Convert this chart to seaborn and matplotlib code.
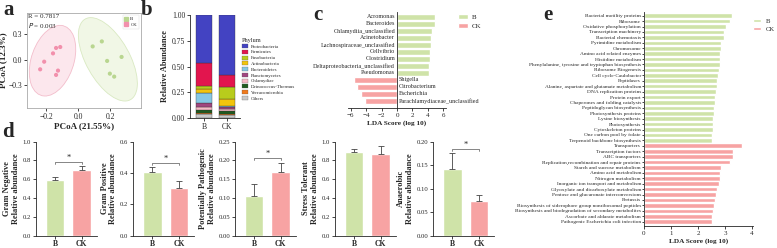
import numpy as np
import pandas as pd
import matplotlib
matplotlib.use("Agg")
import matplotlib.pyplot as plt
import seaborn as sns
from matplotlib.patches import Ellipse, Patch
from matplotlib.lines import Line2D

sns.set_theme(style="ticks")
plt.rcParams['font.family'] = ['Liberation Serif', 'DejaVu Serif']
plt.rcParams['axes.linewidth'] = 0.6
plt.rcParams['xtick.major.width'] = 0.6
plt.rcParams['ytick.major.width'] = 0.6
plt.rcParams['xtick.major.size'] = 2
plt.rcParams['ytick.major.size'] = 2
plt.rcParams['xtick.major.pad'] = 1.5
plt.rcParams['ytick.major.pad'] = 1.5

GREEN = "#CFE3A8"
PINK = "#F7A3A3"

# ---------------- data ----------------
# a: PCoA
pcoa_B_x = [0.146, 0.089, 0.179, 0.269, 0.196, 0.223]
pcoa_B_y = [0.215, 0.156, -0.015, 0.032, -0.165, -0.200]
pcoa_CK_x = [-0.113, -0.139, -0.158, -0.213, -0.238, -0.127, -0.139]
pcoa_CK_y = [0.149, 0.138, 0.074, -0.024, -0.114, -0.129, -0.180]
anosim_R = "R = 0.7817"
anosim_P = "0.003"

# b: phylum composition
phyla = ["Proteobacteria", "Firmicutes", "Fusobacteria", "Actinobacteria",
         "Bacteroidetes", "Planctomycetes", "Chlamydiae", "Deinococcus-Thermus",
         "Verrucomicrobia", "Others"]
phyla_colors = ["#4343C2", "#E2154E", "#B8CC1C", "#F2C40C", "#86C8E4",
                "#A0467F", "#F6BAC6", "#1F5A1F", "#F07A1C", "#C9C9C9"]
abund_B = [0.470, 0.220, 0.030, 0.040, 0.090, 0.045, 0.030, 0.030, 0.005, 0.040]
abund_CK = [0.582, 0.120, 0.113, 0.064, 0.010, 0.025, 0.016, 0.035, 0.010, 0.025]
groups = ["B", "CK"]

# c: LEfSe genus
lda_taxa = ["Acromonas", "Bacteroides", "Chlamydiia_unclassified", "Acinetobacter",
            "Lachnospiraceae_unclassified", "Cellvibrio", "Clostridium",
            "Deltaproteobacteria_unclassified", "Pseudomonas", "Shigella",
            "Citrobacterium", "Escherichia", "Parachlamydiaceae_unclassified"]
lda_scores = [4.9, 4.9, 4.5, 4.45, 4.35, 4.2, 4.2, 4.15, 4.1, -5.5, -5.1, -4.7, -4.1]
lda_group = ["B"] * 9 + ["CK"] * 4

# d: phenotypes
func_titles = ["Gram Negative", "Gram Positive", "Potentially Pathogenic",
               "Stress Tolerant", "Anaerobic"]
func_mean_B = [0.590, 0.405, 0.104, 0.888, 0.141]
func_mean_CK = [0.695, 0.307, 0.168, 0.873, 0.074]
func_sd_B = [0.030, 0.031, 0.033, 0.031, 0.034]
func_sd_CK = [0.043, 0.042, 0.026, 0.081, 0.012]
func_ymax = [1.0, 0.6, 0.25, 1.0, 0.20]
func_ystep = [0.2, 0.2, 0.05, 0.2, 0.05]
func_sig = ["*", "*", "*", "", "*"]

# e: KEGG LEfSe
kegg_terms = ["Bacterial motility proteins", "Ribosome", "Oxidative phosphorylation",
              "Transcription machinery", "Bacterial chemotaxis", "Pyrimidine metabolism",
              "Chromosome", "Amino acid related enzymes", "Histidine metabolism",
              "Phenylalanine, tyrosine and tryptophan biosynthesis", "Ribosome Biogenesis",
              "Cell cycle-Caulobacter", "Peptidases",
              "Alanine, aspartate and glutamate metabolism", "DNA replication proteins",
              "Protein export", "Chaperones and folding catalysts",
              "Peptidoglycan biosynthesis", "Photosynthesis proteins", "Lysine biosynthesis",
              "Photosynthesis", "Cytoskeleton proteins", "One carbon pool by folate",
              "Terpenoid backbone biosynthesis",
              "Transporters", "Transcription factors", "ABC transporters",
              "Replication,recombination and repair proteins", "Starch and sucrose metabolism",
              "Amino acid metabolism", "Nitrogen metabolism",
              "Inorganic ion transport and metabolism",
              "Glyoxylate and dicarboxylate metabolism",
              "Pentose and glucuronate interconversions", "Pertussis",
              "Biosynthesis of siderophore group nonribosomal peptides",
              "Biosynthesis and biodegradation of secondary metabolites",
              "Ascorbate and aldarate metabolism", "Pathogenic Escherichia coli infection"]
kegg_scores = [3.25, 3.19, 3.04, 2.97, 2.96, 2.86, 2.84, 2.81, 2.80, 2.80, 2.78, 2.75,
               2.72, 2.69, 2.67, 2.64, 2.63, 2.60, 2.59, 2.57, 2.57, 2.55, 2.53, 2.52,
               3.63, 3.31, 3.30, 3.19, 2.84, 2.81, 2.80, 2.79, 2.72, 2.67, 2.61, 2.60,
               2.54, 2.52, 2.51]
kegg_group = ["B"] * 24 + ["CK"] * 15

# ---------------- figure ----------------
W, H = 777, 248
fig = plt.figure(figsize=(W / 100, H / 100), dpi=100)


def box(x0, y0, x1, y1):
    return [x0 / W, 1 - y1 / H, (x1 - x0) / W, (y1 - y0) / H]


def letter(x, y, s):
    fig.text(x / W, 1 - y / H, s, fontsize=15, fontweight="bold", va="top", ha="left")


# ---- a ----
axa = fig.add_axes(box(27, 13, 141, 108))
pc = pd.DataFrame({"x": pcoa_B_x + pcoa_CK_x, "y": pcoa_B_y + pcoa_CK_y,
                   "g": ["B"] * len(pcoa_B_x) + ["CK"] * len(pcoa_CK_x)})


def conf_ellipse(ax, x, y, radius, face, edge):
    x = np.asarray(x); y = np.asarray(y)
    cov = np.cov(x, y)
    vals, vecs = np.linalg.eigh(cov)
    order = vals.argsort()[::-1]
    vals, vecs = vals[order], vecs[:, order]
    ang = np.degrees(np.arctan2(vecs[1, 0], vecs[0, 0]))
    w, h = 2 * radius * np.sqrt(vals)
    ax.add_patch(Ellipse((x.mean(), y.mean()), w, h, angle=ang, facecolor=face,
                         edgecolor=edge, lw=0.6, zorder=1))


conf_ellipse(axa, pcoa_B_x, pcoa_B_y, 2.95, "#F1F7E6", "#D9E9C2")
conf_ellipse(axa, pcoa_CK_x, pcoa_CK_y, 3.1, "#FCE7ED", "#F3BDCB")
sns.scatterplot(data=pc, x="x", y="y", hue="g", palette={"B": "#B9D690", "CK": "#F290AC"},
                s=9, linewidth=0, ax=axa, zorder=3, legend=False)
axa.set_xlim(-0.32, 0.39)
axa.set_ylim(-0.57, 0.55)
axa.set_xticks([-0.2, 0.0, 0.2])
axa.set_yticks([-0.3, 0.0, 0.3])
axa.tick_params(labelsize=5.5)
for sp in axa.spines.values():
    sp.set_color("#AAAAAA")
axa.set_xlabel("PCoA (21.55%)", fontsize=6.5, fontweight="bold", labelpad=1)
axa.set_ylabel("PCoA (12.3%)", fontsize=6.5, fontweight="bold", labelpad=1)
axa.text(0.01, 0.99, anosim_R, transform=axa.transAxes, fontsize=5, va="top")
axa.text(0.01, 0.92, r"$\it{P}$ = " + anosim_P, transform=axa.transAxes, fontsize=5, va="top")
ha = [Line2D([], [], marker="s", ls="", color="#B9D690", ms=2.5),
      Line2D([], [], marker="s", ls="", color="#F290AC", ms=2.5)]
axa.legend(ha, groups, loc="upper right", fontsize=3.5, frameon=True, handlelength=0.8,
           handletextpad=0.4, borderpad=0.3, labelspacing=0.3, edgecolor="#DDDDDD",
           fancybox=False, framealpha=1).get_frame().set_linewidth(0.3)
letter(3, 0, "a")

# ---- b ----
axb = fig.add_axes(box(190, 15, 240, 118))
bottom = np.zeros(2)
for i in range(len(phyla) - 1, -1, -1):
    vals = np.array([abund_B[i], abund_CK[i]])
    axb.bar([0, 1], vals, bottom=bottom, width=0.7, color=phyla_colors[i],
            edgecolor="#333333", linewidth=0.25, label=phyla[i])
    bottom += vals
axb.set_xlim(-0.61, 1.57)
axb.set_ylim(0, 1.0)
axb.set_xticks([0, 1])
axb.set_xticklabels(groups)
axb.set_yticks([0, 0.25, 0.5, 0.75, 1.0])
axb.tick_params(labelsize=5.5)
sns.despine(ax=axb)
axb.set_ylabel("Relative Abundance", fontsize=6, fontweight="bold", labelpad=2)
hb = [Patch(facecolor=c, edgecolor="#555555", linewidth=0.2) for c in phyla_colors]
leg = axb.legend(hb, phyla, title="Phylum", loc="upper left",
                 bbox_to_anchor=(240 / W, 1 - 36 / H), bbox_transform=fig.transFigure,
                 fontsize=3.5, title_fontsize=4.5, frameon=False, handlelength=1.3,
                 handleheight=0.9, handletextpad=0.5, labelspacing=0.22, borderaxespad=0)
leg._legend_box.align = "left"
letter(141, 0, "b")

# ---- c ----
axc = fig.add_axes(box(348.2, 12, 445.8, 108))
lda = pd.DataFrame({"taxon": lda_taxa, "score": lda_scores, "group": lda_group})
sns.barplot(data=lda, x="score", y="taxon", hue="group", palette={"B": GREEN, "CK": PINK},
            dodge=False, width=0.8, orient="h", ax=axc, legend=False, saturation=1)
axc.set_xlim(-6.3, 6.3)
axc.set_ylim(len(lda_taxa) - 0.0, -0.7)
axc.set_xticks([-6, -4, -2, 0, 2, 4, 6])
axc.set_yticks([])
axc.tick_params(labelsize=5)
axc.set_ylabel("")
axc.spines["left"].set_position(("data", 0))
sns.despine(ax=axc)
for i, (t, v) in enumerate(zip(lda_taxa, lda_scores)):
    if v > 0:
        axc.text(-0.25, i, t, ha="right", va="center", fontsize=4.4)
    else:
        axc.text(0.25, i, t, ha="left", va="center", fontsize=4.4, clip_on=False)
axc.set_xlabel("LDA Score (log 10)", fontsize=5.2, fontweight="bold", labelpad=2)
hc = [Patch(facecolor=GREEN), Patch(facecolor=PINK)]
fig.legend(hc, groups, loc="upper left", bbox_to_anchor=(455 / W, 1 - 11 / H),
           fontsize=5, frameon=False, handlelength=1.4, handleheight=0.8,
           handletextpad=0.6, labelspacing=0.4, borderaxespad=0)
letter(313, 5, "c")

# ---- d ----
d_lefts = [36, 133.3, 235, 335, 433.3]
for k in range(5):
    ax = fig.add_axes(box(d_lefts[k], 141.7, d_lefts[k] + 61, 235.5))
    df = pd.DataFrame({"g": groups, "v": [func_mean_B[k], func_mean_CK[k]]})
    sns.barplot(data=df, x="g", y="v", hue="g", palette={"B": GREEN, "CK": PINK},
                dodge=False, width=0.69, ax=ax, legend=False, saturation=1)
    ax.errorbar([0, 1], df["v"], yerr=[[0, 0], [func_sd_B[k], func_sd_CK[k]]],
                fmt="none", ecolor="#444444", elinewidth=0.6, capsize=2.2, capthick=0.6)
    ax.set_xlim(-0.72, 1.58)
    ax.set_ylim(0, func_ymax[k])
    ax.set_yticks(np.round(np.arange(0, func_ymax[k] + 1e-9, func_ystep[k]), 3))
    ax.tick_params(axis="y", labelsize=4.8)
    ax.tick_params(axis="x", labelsize=5.5)
    for lab in ax.get_xticklabels():
        lab.set_fontweight("bold")
    ax.set_xlabel("")
    ax.set_ylabel(func_titles[k] + "\nRelative abundance", fontsize=6,
                  fontweight="bold", labelpad=2, linespacing=1.1)
    sns.despine(ax=ax)
    if func_sig[k]:
        top = max(func_mean_B[k] + func_sd_B[k], func_mean_CK[k] + func_sd_CK[k])
        yb = top + 0.05 * func_ymax[k]
        tick = 0.025 * func_ymax[k]
        ax.plot([0, 0, 1, 1], [yb - tick, yb, yb, yb - tick], color="#555555", lw=0.5)
        ax.text(0.5, yb, func_sig[k], ha="center", va="bottom", fontsize=6)
letter(2, 122, "d")

# ---- e ----
axe = fig.add_axes(box(644, 11.7, 753.4, 226))
kg = pd.DataFrame({"term": kegg_terms, "score": kegg_scores, "group": kegg_group})
sns.barplot(data=kg, x="score", y="term", hue="group", palette={"B": GREEN, "CK": PINK},
            dodge=False, width=0.85, orient="h", ax=axe, legend=False, saturation=1)
axe.set_xlim(0, 4.05)
axe.set_ylim(len(kegg_terms) - 0.2, -0.74)
axe.set_xticks([0, 1, 2, 3, 4])
axe.tick_params(axis="x", labelsize=5)
axe.tick_params(axis="y", labelsize=3.9, length=1.2, pad=1)
axe.set_ylabel("")
sns.despine(ax=axe)
axe.set_xlabel("LDA Score (log 10)", fontsize=5.2, fontweight="bold", labelpad=2)
fig.legend(hc, groups, loc="upper left", bbox_to_anchor=(750 / W, 1 - 16 / H),
           fontsize=4.8, frameon=False, handlelength=1.3, handleheight=0.4,
           handletextpad=0.6, labelspacing=0.5, borderaxespad=0)
letter(543, 5, "e")

fig.savefig("out.png", dpi=100)
